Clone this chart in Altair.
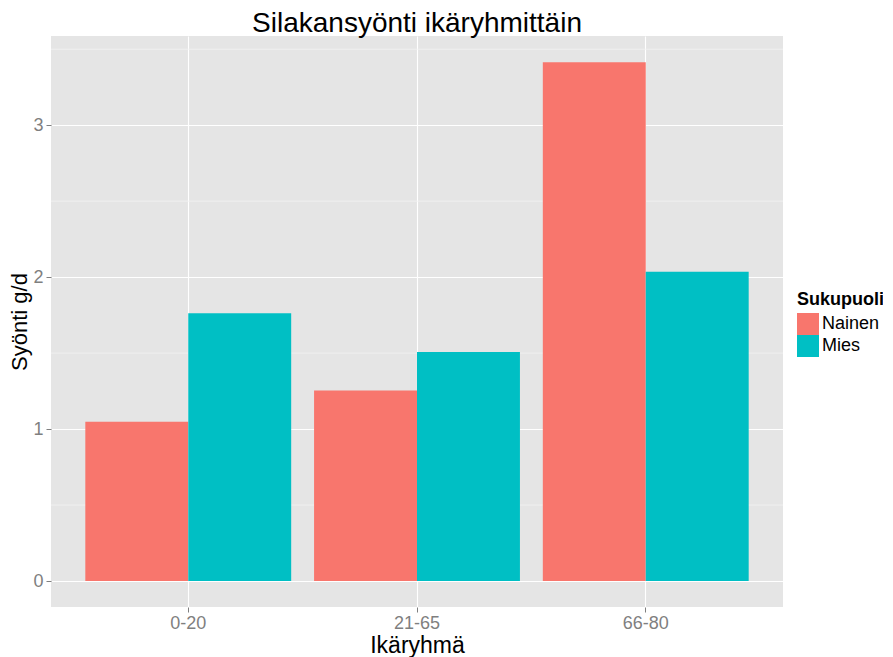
import altair as alt
import pandas as pd

age_groups = ["0-20", "21-65", "66-80"]
sexes = ["Nainen", "Mies"]
nainen = [1.048, 1.254, 3.414]
mies = [1.762, 1.508, 2.036]
minor_breaks = [0.5, 1.5, 2.5, 3.5]
major_breaks = [0, 1, 2, 3]

rows = []
for i, g in enumerate(age_groups):
    rows.append({"Ikäryhmä": g, "Sukupuoli": "Nainen", "Syönti": nainen[i]})
    rows.append({"Ikäryhmä": g, "Sukupuoli": "Mies", "Syönti": mies[i]})
df = pd.DataFrame(rows)
minor_df = pd.DataFrame({"v": minor_breaks})

FONT = "Liberation Sans"
yscale = alt.Scale(domain=[-0.171, 3.587], nice=False, zero=False)
yaxis = alt.Axis(
    title="Syönti g/d", values=major_breaks, format="d",
    labelFontSize=18, labelColor="#7F7F7F", labelPadding=3,
    titleFontSize=22, titleColor="black", titleFontWeight="normal",
    titlePadding=1, tickSize=5, tickColor="#7F7F7F", domain=False,
)

minor = alt.Chart(minor_df).mark_rule(color="#F2F2F2", strokeWidth=0.8).encode(
    y=alt.Y("v:Q", scale=yscale, axis=yaxis, title="Syönti g/d")
)

bars = alt.Chart(df).mark_bar(stroke=None).encode(
    x=alt.X(
        "Ikäryhmä:N",
        sort=age_groups,
        scale=alt.Scale(paddingInner=0.1, paddingOuter=0.15),
        axis=alt.Axis(
            title="Ikäryhmä", labelAngle=0, bandPosition=0.5, grid=True,
            labelFontSize=18, labelColor="#7F7F7F", labelPadding=2,
            titleFontSize=23, titleColor="black", titleFontWeight="normal",
            titlePadding=2, tickSize=5, tickColor="#7F7F7F", domain=False,
        ),
    ),
    xOffset=alt.XOffset(
        "Sukupuoli:N", sort=sexes, scale=alt.Scale(paddingInner=0, paddingOuter=0)
    ),
    y=alt.Y("Syönti:Q", scale=yscale, axis=yaxis, title="Syönti g/d"),
    y2=alt.datum(0),
    color=alt.Color(
        "Sukupuoli:N",
        sort=sexes,
        scale=alt.Scale(domain=sexes, range=["#F8766D", "#00BFC4"]),
        legend=alt.Legend(
            title="Sukupuoli", orient="none", legendX=746, legendY=255,
            titleFontSize=18, titleFontWeight="bold", titleColor="black",
            labelFontSize=18, labelColor="black", labelOffset=3,
            symbolType="square", symbolSize=484, symbolStrokeWidth=0,
            rowPadding=0, titlePadding=4,
        ),
    ),
)

chart = alt.layer(minor, bars).properties(
    width=732,
    height=571,
    autosize=alt.AutoSizeParams(type="none"),
    padding={"left": 43, "top": 28, "right": 100, "bottom": 50},
    title=alt.Title(
        "Silakansyönti ikäryhmittäin", fontSize=28, fontWeight="normal",
        color="black", anchor="middle", baseline="alphabetic", offset=4,
        dy=28, font=FONT,
    ),
).configure(font=FONT).configure_view(
    fill="#E5E5E5", stroke=None
).configure_axis(
    gridColor="white", gridWidth=1.1, labelFont=FONT, titleFont=FONT
).configure_legend(labelFont=FONT, titleFont=FONT)

chart.save("out.html", embed_options={"renderer": "svg", "actions": False})
